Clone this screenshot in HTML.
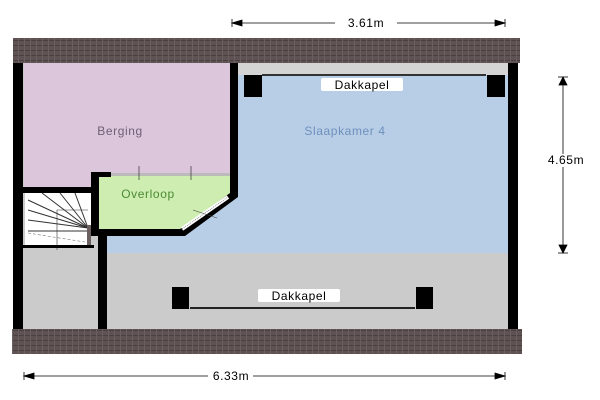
<!DOCTYPE html>
<html><head><style>
body{margin:0;width:600px;height:400px;background:#fff;overflow:hidden}
svg{display:block}
text{font-family:"Liberation Sans",sans-serif;letter-spacing:0.6px}
</style></head><body>
<svg width="600" height="400" viewBox="0 0 600 400">
<defs>
<pattern id="roof" width="6" height="5" patternUnits="userSpaceOnUse">
<rect width="6" height="5" fill="#5e5352"/><rect width="6" height="1" fill="#4a403f"/><rect width="1" height="5" fill="#6b605f"/>
</pattern>
</defs>
<rect x="22" y="62" width="487" height="268" fill="#cbcbcb"/>
<rect x="100" y="62" width="409" height="191" fill="#b8cee6"/>
<rect x="237" y="62" width="272" height="13" fill="#d4d4d4"/>
<rect x="24" y="62" width="208" height="128" fill="#dcc6dc"/>
<polygon points="95,175 232,175 232,195 183,231 95,231" fill="#cdeeb0"/>
<rect x="13" y="62" width="10" height="268" fill="#000"/>
<rect x="508" y="62" width="10" height="268" fill="#000"/>
<rect x="230" y="62" width="8" height="130" fill="#000"/>
<polygon points="230,190 238,190 238,197 185,236 180,229 230,193" fill="#000"/>
<rect x="92" y="229" width="93" height="7" fill="#000"/>
<rect x="91" y="172" width="8" height="64" fill="#000"/>
<rect x="91" y="172" width="20" height="5" fill="#000"/>
<rect x="98" y="230" width="9" height="100" fill="#000"/>
<rect x="22" y="187" width="72" height="6" fill="#000"/>
<rect x="111" y="173" width="119" height="3" fill="#bbb"/>
<line x1="139" y1="166" x2="139" y2="180" stroke="#444" stroke-width="0.8"/>
<line x1="191" y1="166" x2="191" y2="180" stroke="#444" stroke-width="0.8"/>
<line x1="182" y1="229" x2="228" y2="197" stroke="#fff" stroke-width="4"/>
<line x1="182" y1="229" x2="228" y2="197" stroke="#555" stroke-width="0.6" stroke-dasharray="1 1"/>
<line x1="193" y1="210" x2="217" y2="218" stroke="#444" stroke-width="0.6"/>
<rect x="25" y="193" width="66" height="53" fill="#fff"/>
<g stroke="#333" stroke-width="1">
<line x1="88" y1="228" x2="42" y2="193"/><line x1="88" y1="228" x2="28" y2="200"/>
<line x1="88" y1="228" x2="28" y2="210"/><line x1="88" y1="228" x2="28" y2="220"/>
<line x1="88" y1="228" x2="60" y2="193"/><line x1="88" y1="228" x2="75" y2="193"/>
<line x1="28" y1="231" x2="90" y2="231"/>
</g>
<polyline points="57,250 57,210 88,210" fill="none" stroke="#333" stroke-width="0.6"/>
<line x1="28" y1="233" x2="85" y2="242" stroke="#777" stroke-width="0.6" stroke-dasharray="3 2"/>
<rect x="22" y="245" width="72" height="3" fill="#000"/>
<rect x="87" y="225" width="4" height="20" fill="#6b605f"/>
<rect x="262" y="74" width="224" height="2" fill="#333"/>
<rect x="244" y="75" width="18" height="22" fill="#000"/>
<rect x="487" y="75" width="18" height="22" fill="#000"/>
<rect x="321" y="78" width="82" height="13" fill="#fff" rx="2"/>
<text x="362" y="89" font-size="12" text-anchor="middle" fill="#000">Dakkapel</text>
<rect x="190" y="307" width="225" height="2" fill="#222"/>
<rect x="172" y="287" width="17" height="22" fill="#000"/>
<rect x="416" y="287" width="17" height="22" fill="#000"/>
<rect x="258" y="289" width="82" height="13" fill="#fff" rx="2"/>
<text x="299" y="300" font-size="12" text-anchor="middle" fill="#000">Dakkapel</text>
<text x="120" y="135" font-size="12" text-anchor="middle" fill="#6e5f73">Berging</text>
<text x="345" y="135" font-size="12" text-anchor="middle" fill="#6e8fbd">Slaapkamer 4</text>
<text x="148" y="198" font-size="12" text-anchor="middle" fill="#4c8a35">Overloop</text>
<rect x="13" y="38" width="507" height="25" fill="url(#roof)"/>
<rect x="12" y="329" width="510" height="25" fill="url(#roof)"/>
<g stroke="#000" stroke-width="0.8" fill="#000">
<line x1="232" y1="23" x2="335" y2="23"/><line x1="397" y1="23" x2="505" y2="23"/>
<line x1="232" y1="19" x2="232" y2="27"/><line x1="505" y1="19" x2="505" y2="27"/>
<polygon points="232,23 242,20 242,26"/><polygon points="505,23 495,20 495,26"/>
<line x1="24" y1="376" x2="208" y2="376"/><line x1="253" y1="376" x2="505" y2="376"/>
<line x1="24" y1="372" x2="24" y2="380"/><line x1="505" y1="372" x2="505" y2="380"/>
<polygon points="24,376 34,373 34,379"/><polygon points="505,376 495,373 495,379"/>
<line x1="563" y1="77" x2="563" y2="253"/>
<line x1="558" y1="77" x2="568" y2="77"/><line x1="558" y1="253" x2="568" y2="253"/>
<polygon points="563,77 559,85 567,85"/><polygon points="563,253 559,245 567,245"/>
</g>
<text x="366" y="27" font-size="12" text-anchor="middle">3.61m</text>
<text x="231" y="380" font-size="12" text-anchor="middle">6.33m</text>
<rect x="549" y="154" width="32" height="13" fill="#fff"/>
<text x="566" y="164" font-size="12" text-anchor="middle">4.65m</text>
</svg>
</body></html>
